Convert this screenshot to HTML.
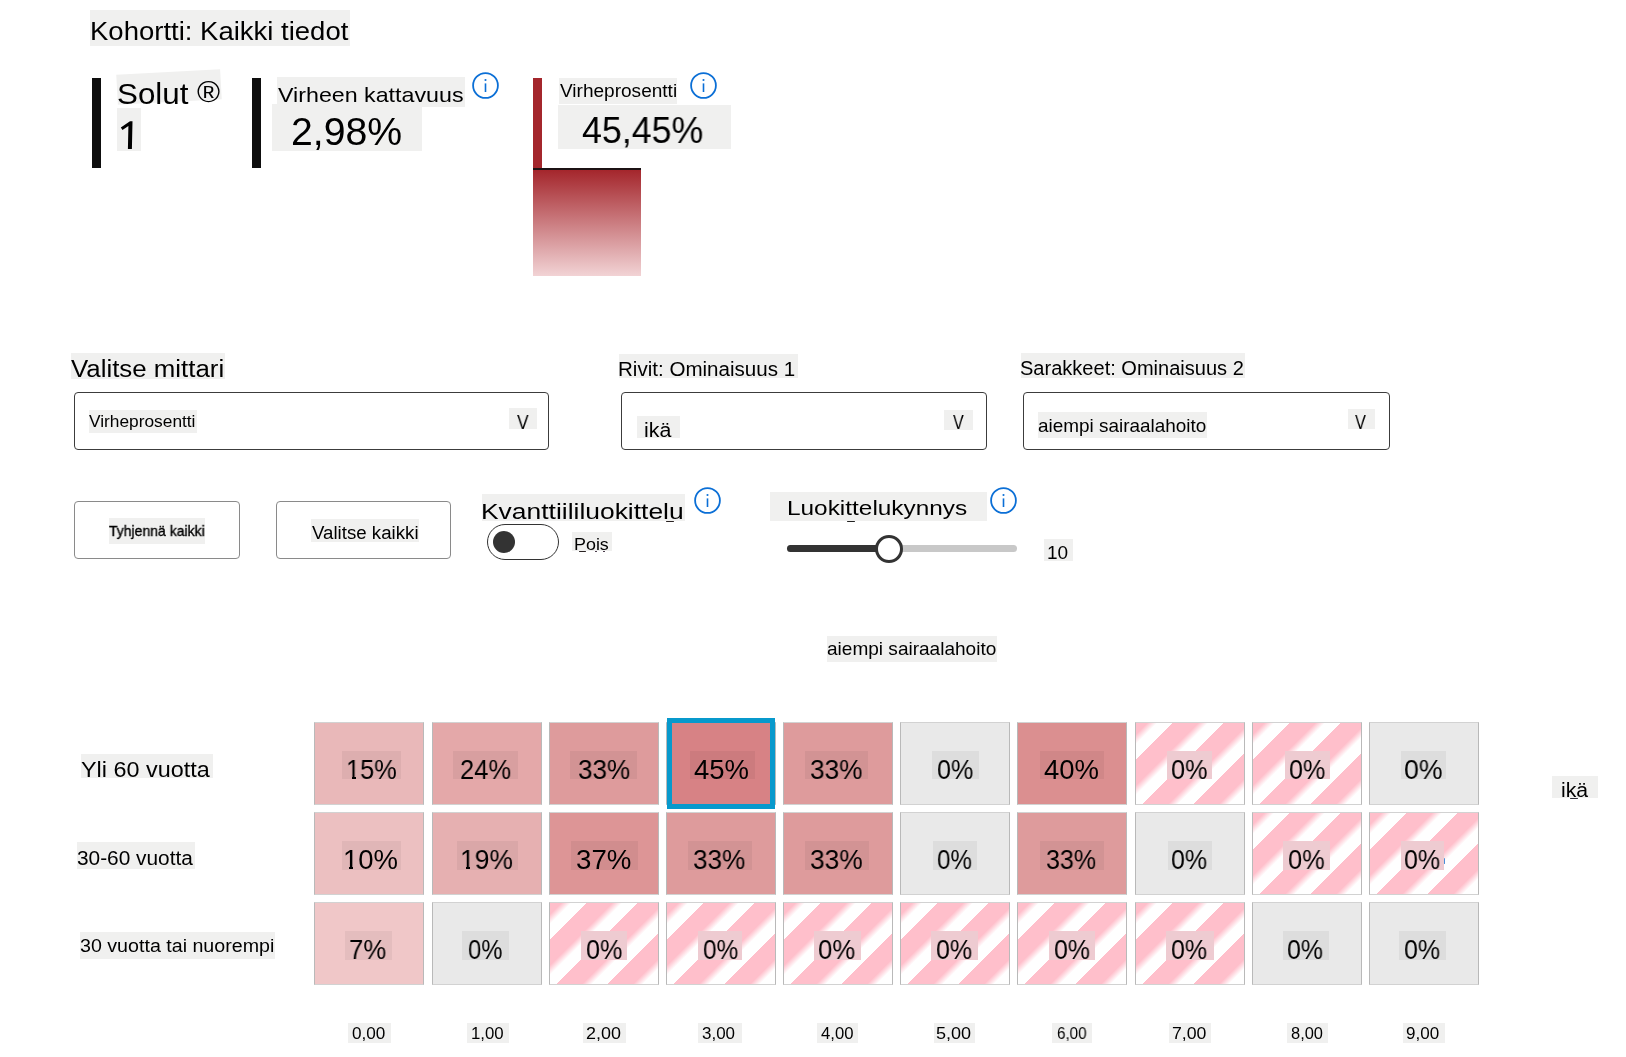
<!DOCTYPE html>
<html><head><meta charset="utf-8"><style>
html,body{margin:0;padding:0;background:#fff;width:1626px;height:1057px;overflow:hidden;position:relative}
body{font-family:"Liberation Sans",sans-serif;color:#000}
.a{position:absolute}
.t{position:absolute;white-space:pre;line-height:normal;transform-origin:0 0;color:#000;will-change:transform}
.bg{position:absolute}
.cell{position:absolute;box-sizing:border-box;border:1px solid #d2d2d2;border-left-color:#b9b9b9;border-right-color:#b9b9b9;width:110px;height:83px}
.st{background:repeating-linear-gradient(135deg,#ffbfcb 0px,#ffbfcb 8px,#ffffff 15px,#ffffff 26px,#ffbfcb 26px,#ffbfcb 36px)}
.info{position:absolute;width:27px;height:27px}
</style></head><body>

<div class="a" style="left:92px;top:78px;width:9px;height:90px;background:#0e0e0e"></div>
<div class="a" style="left:252px;top:78px;width:9px;height:90px;background:#0e0e0e"></div>
<div class="a" style="left:533px;top:78px;width:9px;height:90px;background:#a4262c"></div>
<div class="a" style="left:533px;top:168px;width:108px;height:2px;background:#1c1214"></div>
<div class="a" style="left:533px;top:170px;width:108px;height:106px;background:linear-gradient(#a4262c,#f2d3d5)"></div>
<div class="a" style="left:74px;top:392px;width:475px;height:58px;box-sizing:border-box;border:1px solid #3c3c3c;border-radius:4px"></div>
<div class="a" style="left:621px;top:392px;width:366px;height:58px;box-sizing:border-box;border:1px solid #3c3c3c;border-radius:4px"></div>
<div class="a" style="left:1023px;top:392px;width:367px;height:58px;box-sizing:border-box;border:1px solid #3c3c3c;border-radius:4px"></div>
<div class="a" style="left:74px;top:501px;width:166px;height:58px;box-sizing:border-box;border:1px solid #8a8a8a;border-radius:4px"></div>
<div class="a" style="left:276px;top:501px;width:175px;height:58px;box-sizing:border-box;border:1px solid #8a8a8a;border-radius:4px"></div>
<div class="a" style="left:487px;top:524px;width:72px;height:36px;box-sizing:border-box;border:1px solid #333;border-radius:18px"></div>
<div class="a" style="left:493px;top:531px;width:22px;height:22px;border-radius:50%;background:#333"></div>
<div class="a" style="left:787px;top:545px;width:230px;height:7px;border-radius:4px;background:#c8c8c8"></div>
<div class="a" style="left:787px;top:545px;width:102px;height:7px;border-radius:4px 0 0 4px;background:#333"></div>
<div class="a" style="left:875.3px;top:535.2px;width:28px;height:28px;box-sizing:border-box;border:3px solid #333;border-radius:50%;background:#fff"></div>
<svg class="info" style="left:471.8px;top:72.0px" viewBox="0 0 27 27"><circle cx="13.5" cy="13.5" r="12.4" fill="none" stroke="#0b6fd6" stroke-width="1.8"/><rect x="12.7" y="11.4" width="1.6" height="8.6" fill="#0b6fd6"/><circle cx="13.5" cy="8" r="1.05" fill="#0b6fd6"/></svg>
<svg class="info" style="left:690.0px;top:72.1px" viewBox="0 0 27 27"><circle cx="13.5" cy="13.5" r="12.4" fill="none" stroke="#0b6fd6" stroke-width="1.8"/><rect x="12.7" y="11.4" width="1.6" height="8.6" fill="#0b6fd6"/><circle cx="13.5" cy="8" r="1.05" fill="#0b6fd6"/></svg>
<svg class="info" style="left:693.5px;top:486.9px" viewBox="0 0 27 27"><circle cx="13.5" cy="13.5" r="12.4" fill="none" stroke="#0b6fd6" stroke-width="1.8"/><rect x="12.7" y="11.4" width="1.6" height="8.6" fill="#0b6fd6"/><circle cx="13.5" cy="8" r="1.05" fill="#0b6fd6"/></svg>
<svg class="info" style="left:990.0px;top:486.8px" viewBox="0 0 27 27"><circle cx="13.5" cy="13.5" r="12.4" fill="none" stroke="#0b6fd6" stroke-width="1.8"/><rect x="12.7" y="11.4" width="1.6" height="8.6" fill="#0b6fd6"/><circle cx="13.5" cy="8" r="1.05" fill="#0b6fd6"/></svg>
<div class="cell" style="left:314px;top:722px;background:#e9b8b9"></div>
<div class="cell" style="left:432px;top:722px;background:#e4a8a9"></div>
<div class="cell" style="left:549px;top:722px;background:#de9b9c"></div>
<div class="cell" style="left:666px;top:722px;background:#d78285"></div>
<div class="cell" style="left:783px;top:722px;background:#de9b9c"></div>
<div class="cell" style="left:900px;top:722px;background:#e9e9e9"></div>
<div class="cell" style="left:1017px;top:722px;background:#db8f90"></div>
<div class="cell st" style="left:1135px;top:722px"></div>
<div class="cell st" style="left:1252px;top:722px"></div>
<div class="cell" style="left:1369px;top:722px;background:#e9e9e9"></div>
<div class="cell" style="left:314px;top:812.4px;background:#ecc0c1"></div>
<div class="cell" style="left:432px;top:812.4px;background:#e6b0b1"></div>
<div class="cell" style="left:549px;top:812.4px;background:#dd9596"></div>
<div class="cell" style="left:666px;top:812.4px;background:#de9b9c"></div>
<div class="cell" style="left:783px;top:812.4px;background:#de9b9c"></div>
<div class="cell" style="left:900px;top:812.4px;background:#e9e9e9"></div>
<div class="cell" style="left:1017px;top:812.4px;background:#de9b9c"></div>
<div class="cell" style="left:1135px;top:812.4px;background:#e9e9e9"></div>
<div class="cell st" style="left:1252px;top:812.4px"></div>
<div class="cell st" style="left:1369px;top:812.4px"></div>
<div class="cell" style="left:314px;top:902.2px;background:#f0c7c8"></div>
<div class="cell" style="left:432px;top:902.2px;background:#e9e9e9"></div>
<div class="cell st" style="left:549px;top:902.2px"></div>
<div class="cell st" style="left:666px;top:902.2px"></div>
<div class="cell st" style="left:783px;top:902.2px"></div>
<div class="cell st" style="left:900px;top:902.2px"></div>
<div class="cell st" style="left:1017px;top:902.2px"></div>
<div class="cell st" style="left:1135px;top:902.2px"></div>
<div class="cell" style="left:1252px;top:902.2px;background:#e9e9e9"></div>
<div class="cell" style="left:1369px;top:902.2px;background:#e9e9e9"></div>
<div class="a" style="left:667px;top:718px;width:108px;height:91px;box-sizing:border-box;border:5px solid #0899cc"></div>
<div class="bg" style="left:90px;top:10px;width:260px;height:36px;background:#f0f0ef"></div>
<div class="bg" style="left:117.3px;top:72.35px;width:104px;height:30.3px;background:#f0f0ef;transform:rotate(-3.1deg)"></div>
<div class="bg" style="left:117px;top:108px;width:24px;height:43px;background:#f0f0ef"></div>
<div class="bg" style="left:277px;top:76.5px;width:188px;height:30.9px;background:#f0f0ef"></div>
<div class="bg" style="left:272px;top:104px;width:150px;height:47px;background:#f0f0ef"></div>
<div class="bg" style="left:559px;top:78px;width:118px;height:26px;background:#f0f0ef"></div>
<div class="bg" style="left:558px;top:105px;width:173px;height:44px;background:#f0f0ef"></div>
<div class="bg" style="left:71px;top:353px;width:154px;height:26px;background:#f0f0ef"></div>
<div class="bg" style="left:619px;top:354px;width:179px;height:24px;background:#f0f0ef"></div>
<div class="bg" style="left:1021px;top:353px;width:224px;height:25px;background:#f0f0ef"></div>
<div class="bg" style="left:89px;top:410px;width:108px;height:23px;background:#f0f0ef"></div>
<div class="bg" style="left:508.6px;top:407.7px;width:28.4px;height:21px;background:#f0f0ef"></div>
<div class="bg" style="left:637px;top:416px;width:43px;height:22px;background:#f0f0ef"></div>
<div class="bg" style="left:944.4px;top:410.1px;width:28.4px;height:19.5px;background:#f0f0ef"></div>
<div class="bg" style="left:1038px;top:412px;width:169px;height:26.4px;background:#f0f0ef"></div>
<div class="bg" style="left:1348.3px;top:408.6px;width:26.6px;height:20.5px;background:#f0f0ef"></div>
<div class="bg" style="left:109px;top:518px;width:96px;height:26px;background:#f0f0ef"></div>
<div class="bg" style="left:311px;top:519px;width:108px;height:23px;background:#f0f0ef"></div>
<div class="bg" style="left:482px;top:494px;width:203px;height:27px;background:#f0f0ef"></div>
<div class="bg" style="left:572px;top:532px;width:40px;height:19px;background:#f0f0ef"></div>
<div class="bg" style="left:770px;top:492px;width:217px;height:29px;background:#f0f0ef"></div>
<div class="bg" style="left:1044px;top:539px;width:29px;height:22px;background:#f0f0ef"></div>
<div class="bg" style="left:827px;top:636px;width:170px;height:26px;background:#f0f0ef"></div>
<div class="bg" style="left:81px;top:754px;width:132px;height:24px;background:#f0f0ef"></div>
<div class="bg" style="left:77px;top:842px;width:117.5px;height:27px;background:#f0f0ef"></div>
<div class="bg" style="left:80px;top:932px;width:195px;height:27px;background:#f0f0ef"></div>
<div class="bg" style="left:1552px;top:775.5px;width:46px;height:22.5px;background:#f0f0ef"></div>
<div class="bg" style="left:348.3px;top:1023px;width:42.6px;height:19.5px;background:#f0f0ef"></div>
<div class="bg" style="left:466.8px;top:1023px;width:42.6px;height:19.5px;background:#f0f0ef"></div>
<div class="bg" style="left:583px;top:1023px;width:42.5px;height:19.5px;background:#f0f0ef"></div>
<div class="bg" style="left:698.4px;top:1023px;width:43.3px;height:19.5px;background:#f0f0ef"></div>
<div class="bg" style="left:817.4px;top:1023px;width:41.1px;height:19.5px;background:#f0f0ef"></div>
<div class="bg" style="left:934.4px;top:1023px;width:41px;height:19.5px;background:#f0f0ef"></div>
<div class="bg" style="left:1051.9px;top:1023px;width:40.6px;height:19.5px;background:#f0f0ef"></div>
<div class="bg" style="left:1168.7px;top:1023px;width:41.9px;height:19.5px;background:#f0f0ef"></div>
<div class="bg" style="left:1286.8px;top:1023px;width:41.1px;height:19.5px;background:#f0f0ef"></div>
<div class="bg" style="left:1402.7px;top:1023px;width:42px;height:19.5px;background:#f0f0ef"></div>
<div class="bg" style="left:341.8px;top:750.8px;width:59.1px;height:28.5px;background:#ddaeaf"></div>
<div class="bg" style="left:452.5px;top:750.8px;width:65.3px;height:28.5px;background:#d89fa0"></div>
<div class="bg" style="left:570.3px;top:750.8px;width:66.5px;height:28.5px;background:#d29394"></div>
<div class="bg" style="left:689.5px;top:750.8px;width:65px;height:28.5px;background:#cc7b7e"></div>
<div class="bg" style="left:804.6px;top:750.8px;width:63.8px;height:28.5px;background:#d29394"></div>
<div class="bg" style="left:932px;top:750.8px;width:46.7px;height:28.5px;background:#dddddd"></div>
<div class="bg" style="left:1040.3px;top:750.8px;width:63.6px;height:28.5px;background:#d08788"></div>
<div class="bg" style="left:1167px;top:750.8px;width:44.8px;height:28.5px;background:#eecbd1"></div>
<div class="bg" style="left:1285px;top:750.8px;width:44.8px;height:28.5px;background:#eecbd1"></div>
<div class="bg" style="left:1401px;top:750.8px;width:44.8px;height:28.5px;background:#dddddd"></div>
<div class="bg" style="left:341.9px;top:841.2px;width:58.8px;height:28.5px;background:#e0b6b7"></div>
<div class="bg" style="left:457px;top:841.2px;width:60.5px;height:28.5px;background:#daa7a8"></div>
<div class="bg" style="left:570.5px;top:841.2px;width:67.1px;height:28.5px;background:#d18d8e"></div>
<div class="bg" style="left:688px;top:841.2px;width:64px;height:28.5px;background:#d29394"></div>
<div class="bg" style="left:805.3px;top:841.2px;width:63.5px;height:28.5px;background:#d29394"></div>
<div class="bg" style="left:933.1px;top:841.2px;width:43.5px;height:28.5px;background:#dddddd"></div>
<div class="bg" style="left:1040.1px;top:841.2px;width:63.5px;height:28.5px;background:#d29394"></div>
<div class="bg" style="left:1167.9px;top:841.2px;width:43.9px;height:28.5px;background:#dddddd"></div>
<div class="bg" style="left:1283.2px;top:841.2px;width:47.2px;height:28.5px;background:#eecbd1"></div>
<div class="bg" style="left:1401.2px;top:841.2px;width:42.4px;height:28.5px;background:#eecbd1"></div>
<div class="bg" style="left:344.5px;top:931px;width:47.1px;height:28.5px;background:#e4bdbe"></div>
<div class="bg" style="left:462.4px;top:931px;width:46.4px;height:28.5px;background:#dddddd"></div>
<div class="bg" style="left:581.4px;top:931px;width:45.4px;height:28.5px;background:#eecbd1"></div>
<div class="bg" style="left:698.2px;top:931px;width:44.3px;height:28.5px;background:#eecbd1"></div>
<div class="bg" style="left:813.6px;top:931px;width:47.9px;height:28.5px;background:#eecbd1"></div>
<div class="bg" style="left:931.3px;top:931px;width:46.4px;height:28.5px;background:#eecbd1"></div>
<div class="bg" style="left:1049.2px;top:931px;width:45.4px;height:28.5px;background:#eecbd1"></div>
<div class="bg" style="left:1166.4px;top:931px;width:47.2px;height:28.5px;background:#eecbd1"></div>
<div class="bg" style="left:1282.5px;top:931px;width:46.1px;height:28.5px;background:#dddddd"></div>
<div class="bg" style="left:1399.4px;top:931px;width:46.4px;height:28.5px;background:#dddddd"></div>
<svg class="a" style="left:0;top:0;width:200px;height:200px;z-index:2" viewBox="0 0 200 200"><path d="M132.5 121.2 L130 121.2 L120.8 127.5 L122.5 129.9 L128.4 126 L127.9 148.9 L131.9 148.9 Z" fill="#000"/></svg>
<div class="t" id="kohortti" style="left:89.5px;top:17px;font-size:25px;transform:scaleX(1.1000)">Kohortti: Kaikki tiedot</div>
<div class="t" id="solut" style="left:116.72px;top:78.3px;font-size:29px;transform:scaleX(1.0798)">Solut <span style="position:relative;top:-2.5px">®</span></div>
<div class="t" id="vkat" style="left:277.8px;top:83.1px;font-size:21px;transform:scaleX(1.1060)">Virheen kattavuus</div>
<div class="t" id="v298" style="left:290.59px;top:110px;font-size:39px;transform:scaleX(1.0047)">2,98%</div>
<div class="t" id="vpro" style="left:559.5px;top:81.2px;font-size:17.5px;transform:scaleX(1.0879)">Virheprosentti</div>
<div class="t" id="v4545" style="left:581.91px;top:109.8px;font-size:36px;transform:scaleX(0.9942)">45,45%</div>
<div class="t" id="valmit" style="left:71.3px;top:356.3px;font-size:23px;transform:scaleX(1.1237)">Valitse mittari</div>
<div class="t" id="rivit" style="left:618.39px;top:358.1px;font-size:19.5px;transform:scaleX(1.0545)">Rivit: Ominaisuus 1</div>
<div class="t" id="sarak" style="left:1020.47px;top:357.4px;font-size:19.5px;transform:scaleX(1.0273)">Sarakkeet: Ominaisuus 2</div>
<div class="t" id="dd1t" style="left:89.3px;top:412.9px;font-size:16px;transform:scaleX(1.0816)">Virheprosentti</div>
<div class="t" id="dd1v" style="left:516.5px;top:411px;font-size:20px;transform:scaleX(0.8692)">V</div>
<div class="t" id="dd2t" style="left:643.73px;top:418.7px;font-size:20px;transform:scaleX(1.0680)">ikä</div>
<div class="t" id="dd2v" style="left:952.8px;top:410.9px;font-size:19.5px;transform:scaleX(0.8231)">V</div>
<div class="t" id="dd3t" style="left:1037.88px;top:414.5px;font-size:18.5px;transform:scaleX(1.0227)">aiempi sairaalahoito</div>
<div class="t" id="dd3v" style="left:1355.4px;top:410.5px;font-size:20px;transform:scaleX(0.8154)">V</div>
<div class="t" id="btn1t" style="left:109.2px;top:522.8px;font-size:14.5px;transform:scaleX(0.9643);-webkit-text-stroke:0.35px #000">Tyhjennä kaikki</div>
<div class="t" id="btn2t" style="left:311.5px;top:523.4px;font-size:18px;transform:scaleX(1.0373)">Valitse kaikki</div>
<div class="t" id="kvant" style="left:481.14px;top:499.9px;font-size:21.5px;transform:scaleX(1.2290)">Kvanttiililuokittelu</div>
<div class="t" id="pois" style="left:574.42px;top:534.9px;font-size:16.5px;transform:scaleX(1.0839)">Pois</div>
<div class="t" id="luok" style="left:787.08px;top:495.5px;font-size:21px;transform:scaleX(1.1608)">Luokittelukynnys</div>
<div class="t" id="ten" style="left:1047.22px;top:542.2px;font-size:19px;transform:scaleX(0.9850)">10</div>
<div class="t" id="colhdr" style="left:826.8px;top:638.1px;font-size:19px;transform:scaleX(1.0018)">aiempi sairaalahoito</div>
<div class="t" id="row0" style="left:80.84px;top:757.2px;font-size:22px;transform:scaleX(1.0625)">Yli 60 vuotta</div>
<div class="t" id="row1" style="left:76.76px;top:846.8px;font-size:20px;transform:scaleX(1.0418)">30-60 vuotta</div>
<div class="t" id="row2" style="left:79.68px;top:936px;font-size:17.5px;transform:scaleX(1.1222)">30 vuotta tai nuorempi</div>
<div class="t" id="ika" style="left:1560.64px;top:779.3px;font-size:20px;transform:scaleX(1.0600)">ikä</div>
<div class="t" id="col0" style="left:352.23px;top:1025.3px;font-size:16px;transform:scaleX(1.0700)">0,00</div>
<div class="t" id="col1" style="left:471.25px;top:1025.3px;font-size:16px;transform:scaleX(1.0500)">1,00</div>
<div class="t" id="col2" style="left:586.18px;top:1025.3px;font-size:16px;transform:scaleX(1.1200)">2,00</div>
<div class="t" id="col3" style="left:702.44px;top:1025.3px;font-size:16px;transform:scaleX(1.0600)">3,00</div>
<div class="t" id="col4" style="left:821.1px;top:1025.3px;font-size:16px;transform:scaleX(1.0419)">4,00</div>
<div class="t" id="col5" style="left:936.37px;top:1025.3px;font-size:16px;transform:scaleX(1.1267)">5,00</div>
<div class="t" id="col6" style="left:1056.55px;top:1025.3px;font-size:16px;transform:scaleX(0.9500)">6,00</div>
<div class="t" id="col7" style="left:1171.69px;top:1025.3px;font-size:16px;transform:scaleX(1.1067)">7,00</div>
<div class="t" id="col8" style="left:1290.57px;top:1025.3px;font-size:16px;transform:scaleX(1.0267)">8,00</div>
<div class="t" id="col9" style="left:1406.24px;top:1025.3px;font-size:16px;transform:scaleX(1.0633)">9,00</div>
<div class="t" id="cell00" style="left:345.65px;top:753.5px;font-size:27.5px;transform:scaleX(0.9231)">15%</div>
<div class="t" id="cell01" style="left:459.87px;top:753.5px;font-size:27.5px;transform:scaleX(0.9302)">24%</div>
<div class="t" id="cell02" style="left:577.55px;top:753.5px;font-size:27.5px;transform:scaleX(0.9491)">33%</div>
<div class="t" id="cell03" style="left:694.31px;top:753.5px;font-size:27.5px;transform:scaleX(0.9943)">45%</div>
<div class="t" id="cell04" style="left:809.65px;top:753.5px;font-size:27.5px;transform:scaleX(0.9547)">33%</div>
<div class="t" id="cell05" style="left:937.29px;top:753.5px;font-size:27.5px;transform:scaleX(0.9132)">0%</div>
<div class="t" id="cell06" style="left:1044.3px;top:753.5px;font-size:27.5px;transform:scaleX(0.9962)">40%</div>
<div class="t" id="cell07" style="left:1170.58px;top:753.5px;font-size:27.5px;transform:scaleX(0.9211)">0%</div>
<div class="t" id="cell08" style="left:1288.79px;top:753.5px;font-size:27.5px;transform:scaleX(0.9132)">0%</div>
<div class="t" id="cell09" style="left:1403.63px;top:753.5px;font-size:27.5px;transform:scaleX(0.9711)">0%</div>
<div class="t" id="cell10" style="left:343.2px;top:843.9px;font-size:27.5px;transform:scaleX(0.9981)">10%</div>
<div class="t" id="cell11" style="left:460.47px;top:843.9px;font-size:27.5px;transform:scaleX(0.9635)">19%</div>
<div class="t" id="cell12" style="left:575.69px;top:843.9px;font-size:27.5px;transform:scaleX(1.0057)">37%</div>
<div class="t" id="cell13" style="left:692.95px;top:843.9px;font-size:27.5px;transform:scaleX(0.9509)">33%</div>
<div class="t" id="cell14" style="left:809.74px;top:843.9px;font-size:27.5px;transform:scaleX(0.9585)">33%</div>
<div class="t" id="cell15" style="left:936.92px;top:843.9px;font-size:27.5px;transform:scaleX(0.8789)">0%</div>
<div class="t" id="cell16" style="left:1046.49px;top:843.9px;font-size:27.5px;transform:scaleX(0.9113)">33%</div>
<div class="t" id="cell17" style="left:1170.59px;top:843.9px;font-size:27.5px;transform:scaleX(0.9079)">0%</div>
<div class="t" id="cell18" style="left:1287.77px;top:843.9px;font-size:27.5px;transform:scaleX(0.9263)">0%</div>
<div class="t" id="cell19" style="left:1403.89px;top:843.9px;font-size:27.5px;transform:scaleX(0.9079)">0%</div>
<div class="t" id="cell20" style="left:348.96px;top:933.7px;font-size:27.5px;transform:scaleX(0.9368)">7%</div>
<div class="t" id="cell21" style="left:467.73px;top:933.7px;font-size:27.5px;transform:scaleX(0.8684)">0%</div>
<div class="t" id="cell22" style="left:585.58px;top:933.7px;font-size:27.5px;transform:scaleX(0.9158)">0%</div>
<div class="t" id="cell23" style="left:702.81px;top:933.7px;font-size:27.5px;transform:scaleX(0.8868)">0%</div>
<div class="t" id="cell24" style="left:817.76px;top:933.7px;font-size:27.5px;transform:scaleX(0.9368)">0%</div>
<div class="t" id="cell25" style="left:935.79px;top:933.7px;font-size:27.5px;transform:scaleX(0.9079)">0%</div>
<div class="t" id="cell26" style="left:1053.79px;top:933.7px;font-size:27.5px;transform:scaleX(0.9053)">0%</div>
<div class="t" id="cell27" style="left:1170.59px;top:933.7px;font-size:27.5px;transform:scaleX(0.9079)">0%</div>
<div class="t" id="cell28" style="left:1287.09px;top:933.7px;font-size:27.5px;transform:scaleX(0.9053)">0%</div>
<div class="t" id="cell29" style="left:1403.89px;top:933.7px;font-size:27.5px;transform:scaleX(0.9079)">0%</div>
<div class="a" style="left:666px;top:520.9px;width:7.5px;height:1.3px;background:#2a2222;border-radius:1px;z-index:3"></div>
<div class="a" style="left:579.3px;top:550.9px;width:7px;height:1.2px;background:#2a2222;border-radius:1px;z-index:3"></div>
<div class="a" style="left:595px;top:551px;width:2.3px;height:1.1px;background:#332233;border-radius:1px;z-index:3"></div>
<div class="a" style="left:603.1px;top:551px;width:2.3px;height:1.1px;background:#332233;border-radius:1px;z-index:3"></div>
<div class="a" style="left:847.3px;top:520.8px;width:7.8px;height:1.3px;background:#222;border-radius:1px;z-index:3"></div>
<div class="a" style="left:1569.8px;top:797.7px;width:8.4px;height:1.3px;background:#2a2a33;border-radius:1px;z-index:3"></div>
<div class="a" style="left:347px;top:777px;width:5px;height:2px;background:#ddaeaf;z-index:3"></div>
<div class="a" style="left:356px;top:777px;width:3px;height:2px;background:#ddaeaf;z-index:3"></div>
<div class="a" style="left:345px;top:867px;width:4px;height:2px;background:#e0b6b7;z-index:3"></div>
<div class="a" style="left:353px;top:867px;width:4px;height:2px;background:#e0b6b7;z-index:3"></div>
<div class="a" style="left:462px;top:867px;width:4px;height:2px;background:#daa7a8;z-index:3"></div>
<div class="a" style="left:470px;top:867px;width:4px;height:2px;background:#daa7a8;z-index:3"></div>
<div class="a" style="left:1443.9px;top:857.8px;width:1.3px;height:5.9px;background:#4a90d9;border-radius:1px;z-index:3"></div>
</body></html>
